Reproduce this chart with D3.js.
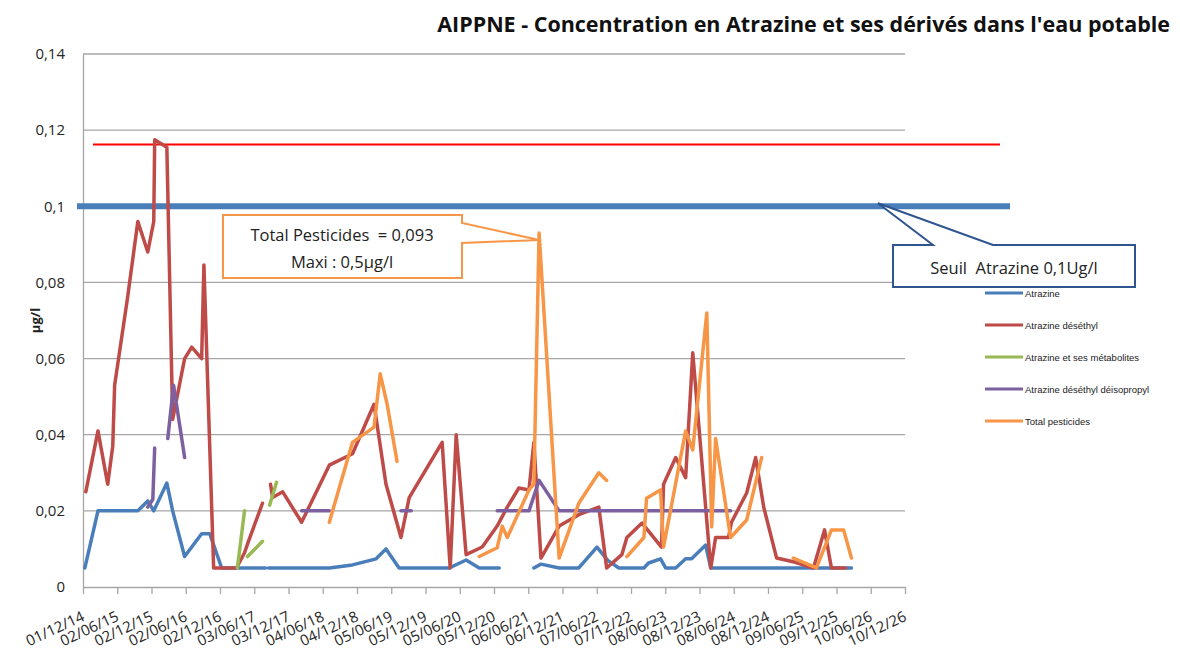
<!DOCTYPE html>
<html>
<head>
<meta charset="utf-8">
<script src="https://cdn.jsdelivr.net/npm/d3@7"></script>
<style>
  body { margin: 0; background: #fff; }
  svg { display: block; font-family: "Open Sans", "DejaVu Sans", sans-serif; }
</style>
</head>
<body>
<svg id="chart" width="1180" height="661"></svg>
<script>
// x axis tick labels (dd/mm/yy)
const tickLabels = ["01/12/14", "02/06/15", "02/12/15", "02/06/16", "02/12/16", "03/06/17", "03/12/17",
    "04/06/18", "04/12/18", "05/06/19", "05/12/19", "05/06/20", "05/12/20", "06/06/21", "06/12/21",
    "07/06/22", "07/12/22", "08/06/23", "08/12/23", "08/06/24", "08/12/24", "09/06/25", "09/12/25",
    "10/06/26", "10/12/26"];
const yTicks = [0, 0.02, 0.04, 0.06, 0.08, 0.1, 0.12, 0.14];

// series values [date, µg/l], null = gap in the line
const atrazine = [
    ["2014-12-11", 0.005], ["2015-02-19", 0.02], ["2015-09-20", 0.02], ["2015-11-12", 0.0226],
    ["2015-12-14", 0.02], ["2016-02-22", 0.0273], ["2016-03-24", 0.02], ["2016-05-27", 0.008],
    ["2016-08-26", 0.014], ["2016-10-08", 0.014], ["2016-12-11", 0.005], ["2017-08-03", 0.005],
    ["2017-08-10", null], ["2017-08-18", 0.005], ["2018-07-09", 0.005], ["2018-11-10", 0.0058],
    ["2019-03-16", 0.0074], ["2019-05-08", 0.010], ["2019-07-17", 0.005], ["2020-04-10", 0.005],
    ["2020-07-09", 0.0071], ["2020-09-17", 0.005], ["2021-01-02", 0.005], ["2021-03-01", null],
    ["2021-07-06", 0.005], ["2021-08-13", 0.006], ["2021-11-18", 0.005], ["2022-03-03", 0.005],
    ["2022-06-08", 0.0105], ["2022-08-05", 0.007], ["2022-10-03", 0.005], ["2023-02-14", 0.005],
    ["2023-03-11", 0.0063], ["2023-05-14", 0.0074], ["2023-06-10", 0.005], ["2023-08-03", 0.005],
    ["2023-09-25", 0.0074], ["2023-10-27", 0.0074], ["2024-01-10", 0.011], ["2024-02-06", 0.005],
    ["2026-02-27", 0.005]
];

const deethyl = [
    ["2014-12-16", 0.025], ["2015-02-19", 0.041], ["2015-04-12", 0.027], ["2015-05-09", 0.037],
    ["2015-05-19", 0.053], ["2015-07-27", 0.076], ["2015-09-20", 0.096], ["2015-11-12", 0.088],
    ["2015-12-14", 0.096], ["2015-12-19", 0.1175], ["2016-02-22", 0.1155], ["2016-03-24", 0.044],
    ["2016-05-27", 0.060], ["2016-07-04", 0.063], ["2016-08-26", 0.060], ["2016-09-07", 0.0846],
    ["2016-10-29", 0.005], ["2017-02-28", 0.005], ["2017-04-12", 0.009], ["2017-05-03", 0.012],
    ["2017-07-17", 0.022], ["2017-08-20", null], ["2017-08-29", 0.027], ["2017-09-09", 0.0235],
    ["2017-11-02", 0.025], ["2018-02-11", 0.017], ["2018-07-09", 0.032], ["2018-11-10", 0.035],
    ["2019-03-05", 0.048], ["2019-05-08", 0.027], ["2019-07-27", 0.013], ["2019-09-09", 0.0235],
    ["2020-03-03", 0.038], ["2020-04-15", 0.005], ["2020-05-17", 0.040], ["2020-07-09", 0.0085],
    ["2020-10-03", 0.0105], ["2020-12-22", 0.016], ["2021-02-14", 0.021], ["2021-04-17", 0.026],
    ["2021-06-10", 0.0255], ["2021-07-06", 0.038], ["2021-08-13", 0.0076], ["2021-11-18", 0.016],
    ["2022-03-03", 0.019], ["2022-06-18", 0.021], ["2022-07-30", 0.005], ["2022-10-19", 0.0085],
    ["2022-11-15", 0.013], ["2023-02-04", 0.0168], ["2023-05-19", 0.0105], ["2023-05-30", 0.027],
    ["2023-08-03", 0.034], ["2023-09-25", 0.0287], ["2023-11-02", 0.0615], ["2024-02-06", 0.005],
    ["2024-03-03", 0.013], ["2024-05-11", 0.013], ["2024-05-27", 0.017], ["2024-08-16", 0.0247],
    ["2024-10-03", 0.034], ["2024-11-15", 0.021], ["2025-01-23", 0.0076], ["2025-05-03", 0.0065],
    ["2025-08-08", 0.005], ["2025-10-06", 0.015], ["2025-11-12", 0.005], ["2026-01-26", 0.005]
];

const metabolites = [
    ["2017-03-05", 0.005], ["2017-04-12", 0.02], ["2017-04-20", null], ["2017-04-28", 0.008],
    ["2017-07-17", 0.012], ["2017-08-20", null], ["2017-08-24", 0.0215], ["2017-09-30", 0.0275]
];

const deisopropyl = [
    ["2015-11-12", 0.021], ["2015-12-09", 0.023], ["2015-12-19", 0.0365], ["2016-01-20", null],
    ["2016-02-27", 0.039], ["2016-03-29", 0.053], ["2016-05-27", 0.034], ["2017-01-01", null],
    ["2018-02-11", 0.02], ["2018-07-09", 0.02], ["2019-01-01", null], ["2019-07-27", 0.02],
    ["2019-09-20", 0.02], ["2020-06-01", null], ["2020-12-22", 0.02], ["2021-06-10", 0.02],
    ["2021-08-03", 0.028], ["2021-11-18", 0.02], ["2024-05-22", 0.02]
];

const totalPesticides = [
    ["2018-07-09", 0.017], ["2018-11-10", 0.038], ["2019-03-05", 0.042], ["2019-04-07", 0.056],
    ["2019-05-14", 0.048], ["2019-07-06", 0.033], ["2020-01-01", null], ["2020-09-17", 0.008],
    ["2020-12-22", 0.0103], ["2021-01-18", 0.016], ["2021-02-14", 0.013], ["2021-06-10", 0.0255],
    ["2021-07-06", 0.027], ["2021-08-03", 0.093], ["2021-11-18", 0.0076], ["2022-03-03", 0.022],
    ["2022-06-18", 0.030], ["2022-07-30", 0.028], ["2022-09-01", null], ["2022-11-15", 0.008],
    ["2023-02-14", 0.013], ["2023-02-28", 0.0233], ["2023-05-14", 0.0255], ["2023-05-30", 0.0105],
    ["2023-09-25", 0.041], ["2023-11-02", 0.036], ["2024-01-16", 0.072], ["2024-02-11", 0.0158],
    ["2024-03-03", 0.039], ["2024-05-22", 0.013], ["2024-08-16", 0.0176], ["2024-11-04", 0.034],
    ["2025-02-01", null], ["2025-04-22", 0.0076], ["2025-08-24", 0.005], ["2025-11-12", 0.015],
    ["2026-01-16", 0.015], ["2026-02-27", 0.0076]
];

const seriesNames = ["Atrazine", "Atrazine déséthyl", "Atrazine et ses métabolites",
    "Atrazine déséthyl déisopropyl", "Total pesticides"];
const seriesData = [atrazine, deethyl, metabolites, deisopropyl, totalPesticides];
const seriesColors = ["#4A7EBB", "#BE4B48", "#98B954", "#7D60A0", "#F79646"];

const seuilAtrazine = 0.1;
const maxLine = 0.1162;

const width = 1180, height = 661;
const marginLeft = 83, marginRight = 275, marginTop = 54, marginBottom = 74;

const svg = d3.select("#chart");
svg.append("rect").attr("width", width).attr("height", height).attr("fill", "#fff");

const parseTick = d3.timeParse("%d/%m/%y");
const parseDate = d3.timeParse("%Y-%m-%d");
const tickDates = tickLabels.map(parseTick);

const x = d3.scaleTime()
    .domain([tickDates[0], tickDates[tickDates.length - 1]])
    .range([marginLeft, width - marginRight]);
const y = d3.scaleLinear()
    .domain([0, 0.14])
    .range([height - marginBottom, marginTop]);

const fmtY = v => v === 0 ? "0" : d3.format(".2~f")(v).replace(".", ",");

// gridlines
svg.append("g")
    .selectAll("line")
    .data(yTicks.filter(d => d > 0))
    .enter()
    .append("line")
    .attr("x1", marginLeft)
    .attr("x2", width - marginRight)
    .attr("y1", d => y(d))
    .attr("y2", d => y(d))
    .attr("stroke", "#a6a6a6")
    .attr("stroke-width", 1.3);

// y axis
const yAxis = svg.append("g")
    .attr("transform", `translate(${marginLeft},0)`)
    .call(d3.axisLeft(y).tickValues(yTicks).tickFormat(fmtY).tickSize(0).tickPadding(18));
yAxis.select(".domain").attr("stroke", "#a6a6a6").attr("stroke-width", 1.3);
yAxis.selectAll("text")
    .attr("font-size", "15px")
    .attr("fill", "#262626")
    .style("font-family", "Open Sans");

// x axis
const xAxis = svg.append("g")
    .attr("transform", `translate(0,${height - marginBottom})`)
    .call(d3.axisBottom(x).tickValues(tickDates).tickFormat((d, i) => tickLabels[i]).tickSize(7).tickSizeOuter(0));
xAxis.select(".domain").attr("stroke", "#a6a6a6").attr("stroke-width", 1.3);
xAxis.selectAll(".tick line").attr("stroke", "#a6a6a6").attr("stroke-width", 1.3);
xAxis.selectAll("text")
    .attr("font-size", "15px")
    .attr("fill", "#262626")
    .style("font-family", "Open Sans")
    .style("text-anchor", "end")
    .attr("y", 0)
    .attr("dy", 0)
    .attr("transform", "translate(2,33) rotate(-25)");

// y axis title
svg.append("text")
    .attr("transform", `translate(40, ${y(0.07)}) rotate(-90)`)
    .style("text-anchor", "middle")
    .attr("font-size", "13px")
    .attr("font-weight", "bold")
    .attr("fill", "#222")
    .text("µg/l");

// title
const title = svg.append("text")
    .attr("x", 1170)
    .attr("y", 32)
    .style("text-anchor", "end")
    .attr("font-size", "18px")
    .attr("font-weight", "bold")
    .attr("fill", "#111")
    .text("AIPPNE - Concentration en Atrazine et ses dérivés dans l'eau potable");
const tw = title.node().getComputedTextLength();
title.attr("font-size", `${18 * 733 / tw}px`);

// reference lines
svg.append("line")
    .attr("x1", marginLeft + 10).attr("x2", 1000)
    .attr("y1", y(maxLine)).attr("y2", y(maxLine))
    .attr("stroke", "#ff0000")
    .attr("stroke-width", 2);

svg.append("line")
    .attr("x1", marginLeft - 6).attr("x2", 1010)
    .attr("y1", y(seuilAtrazine)).attr("y2", y(seuilAtrazine))
    .attr("stroke", "#4A7EBB")
    .attr("stroke-width", 6);

// series
const line = d3.line()
    .defined(d => d[1] !== null)
    .x(d => x(parseDate(d[0])))
    .y(d => y(d[1]));

seriesData.forEach((data, i) => {
    svg.append("path")
        .datum(data)
        .attr("d", line)
        .attr("fill", "none")
        .attr("stroke", seriesColors[i])
        .attr("stroke-width", 3.5)
        .attr("stroke-linejoin", "round")
        .attr("stroke-linecap", "round");
});

// legend
const legend = svg.append("g").attr("transform", "translate(985, 293)");
seriesNames.forEach((name, i) => {
    legend.append("line")
        .attr("x1", 0).attr("x2", 38)
        .attr("y1", i * 32).attr("y2", i * 32)
        .attr("stroke", seriesColors[i])
        .attr("stroke-width", 3);
    legend.append("text")
        .attr("x", 40)
        .attr("y", i * 32 + 3.5)
        .attr("font-size", "9.5px")
        .attr("fill", "#222")
        .style("font-family", "Liberation Sans Narrow, Liberation Sans, sans-serif")
        .text(name);
});

// callout: Total pesticides peak
const peak = totalPesticides.find(d => d[1] === 0.093);
const px = x(parseDate(peak[0])), py = y(peak[1]);
svg.append("path")
    .attr("d", `M223,215 H462 V223 L${px},${py + 7} L462,243 V278 H223 Z`)
    .attr("fill", "#fff")
    .attr("stroke", "#F79646")
    .attr("stroke-width", 2);
svg.append("text")
    .attr("x", 342).attr("y", 241)
    .style("text-anchor", "middle")
    .attr("font-size", "16.5px")
    .attr("fill", "#222")
    .attr("xml:space", "preserve")
    .text("Total Pesticides  = 0,093");
svg.append("text")
    .attr("x", 342).attr("y", 268)
    .style("text-anchor", "middle")
    .attr("font-size", "16.5px")
    .attr("fill", "#222")
    .text("Maxi : 0,5µg/l");

// callout: seuil atrazine
svg.append("path")
    .attr("d", `M893,245 H933 L878,${y(seuilAtrazine) - 3} L993,245 H1135 V287 H893 Z`)
    .attr("fill", "#fff")
    .attr("stroke", "#2F5490")
    .attr("stroke-width", 2);
svg.append("text")
    .attr("x", 1014).attr("y", 274)
    .style("text-anchor", "middle")
    .attr("font-size", "16.5px")
    .attr("fill", "#222")
    .attr("xml:space", "preserve")
    .text("Seuil  Atrazine 0,1Ug/l");
</script>
</body>
</html>
